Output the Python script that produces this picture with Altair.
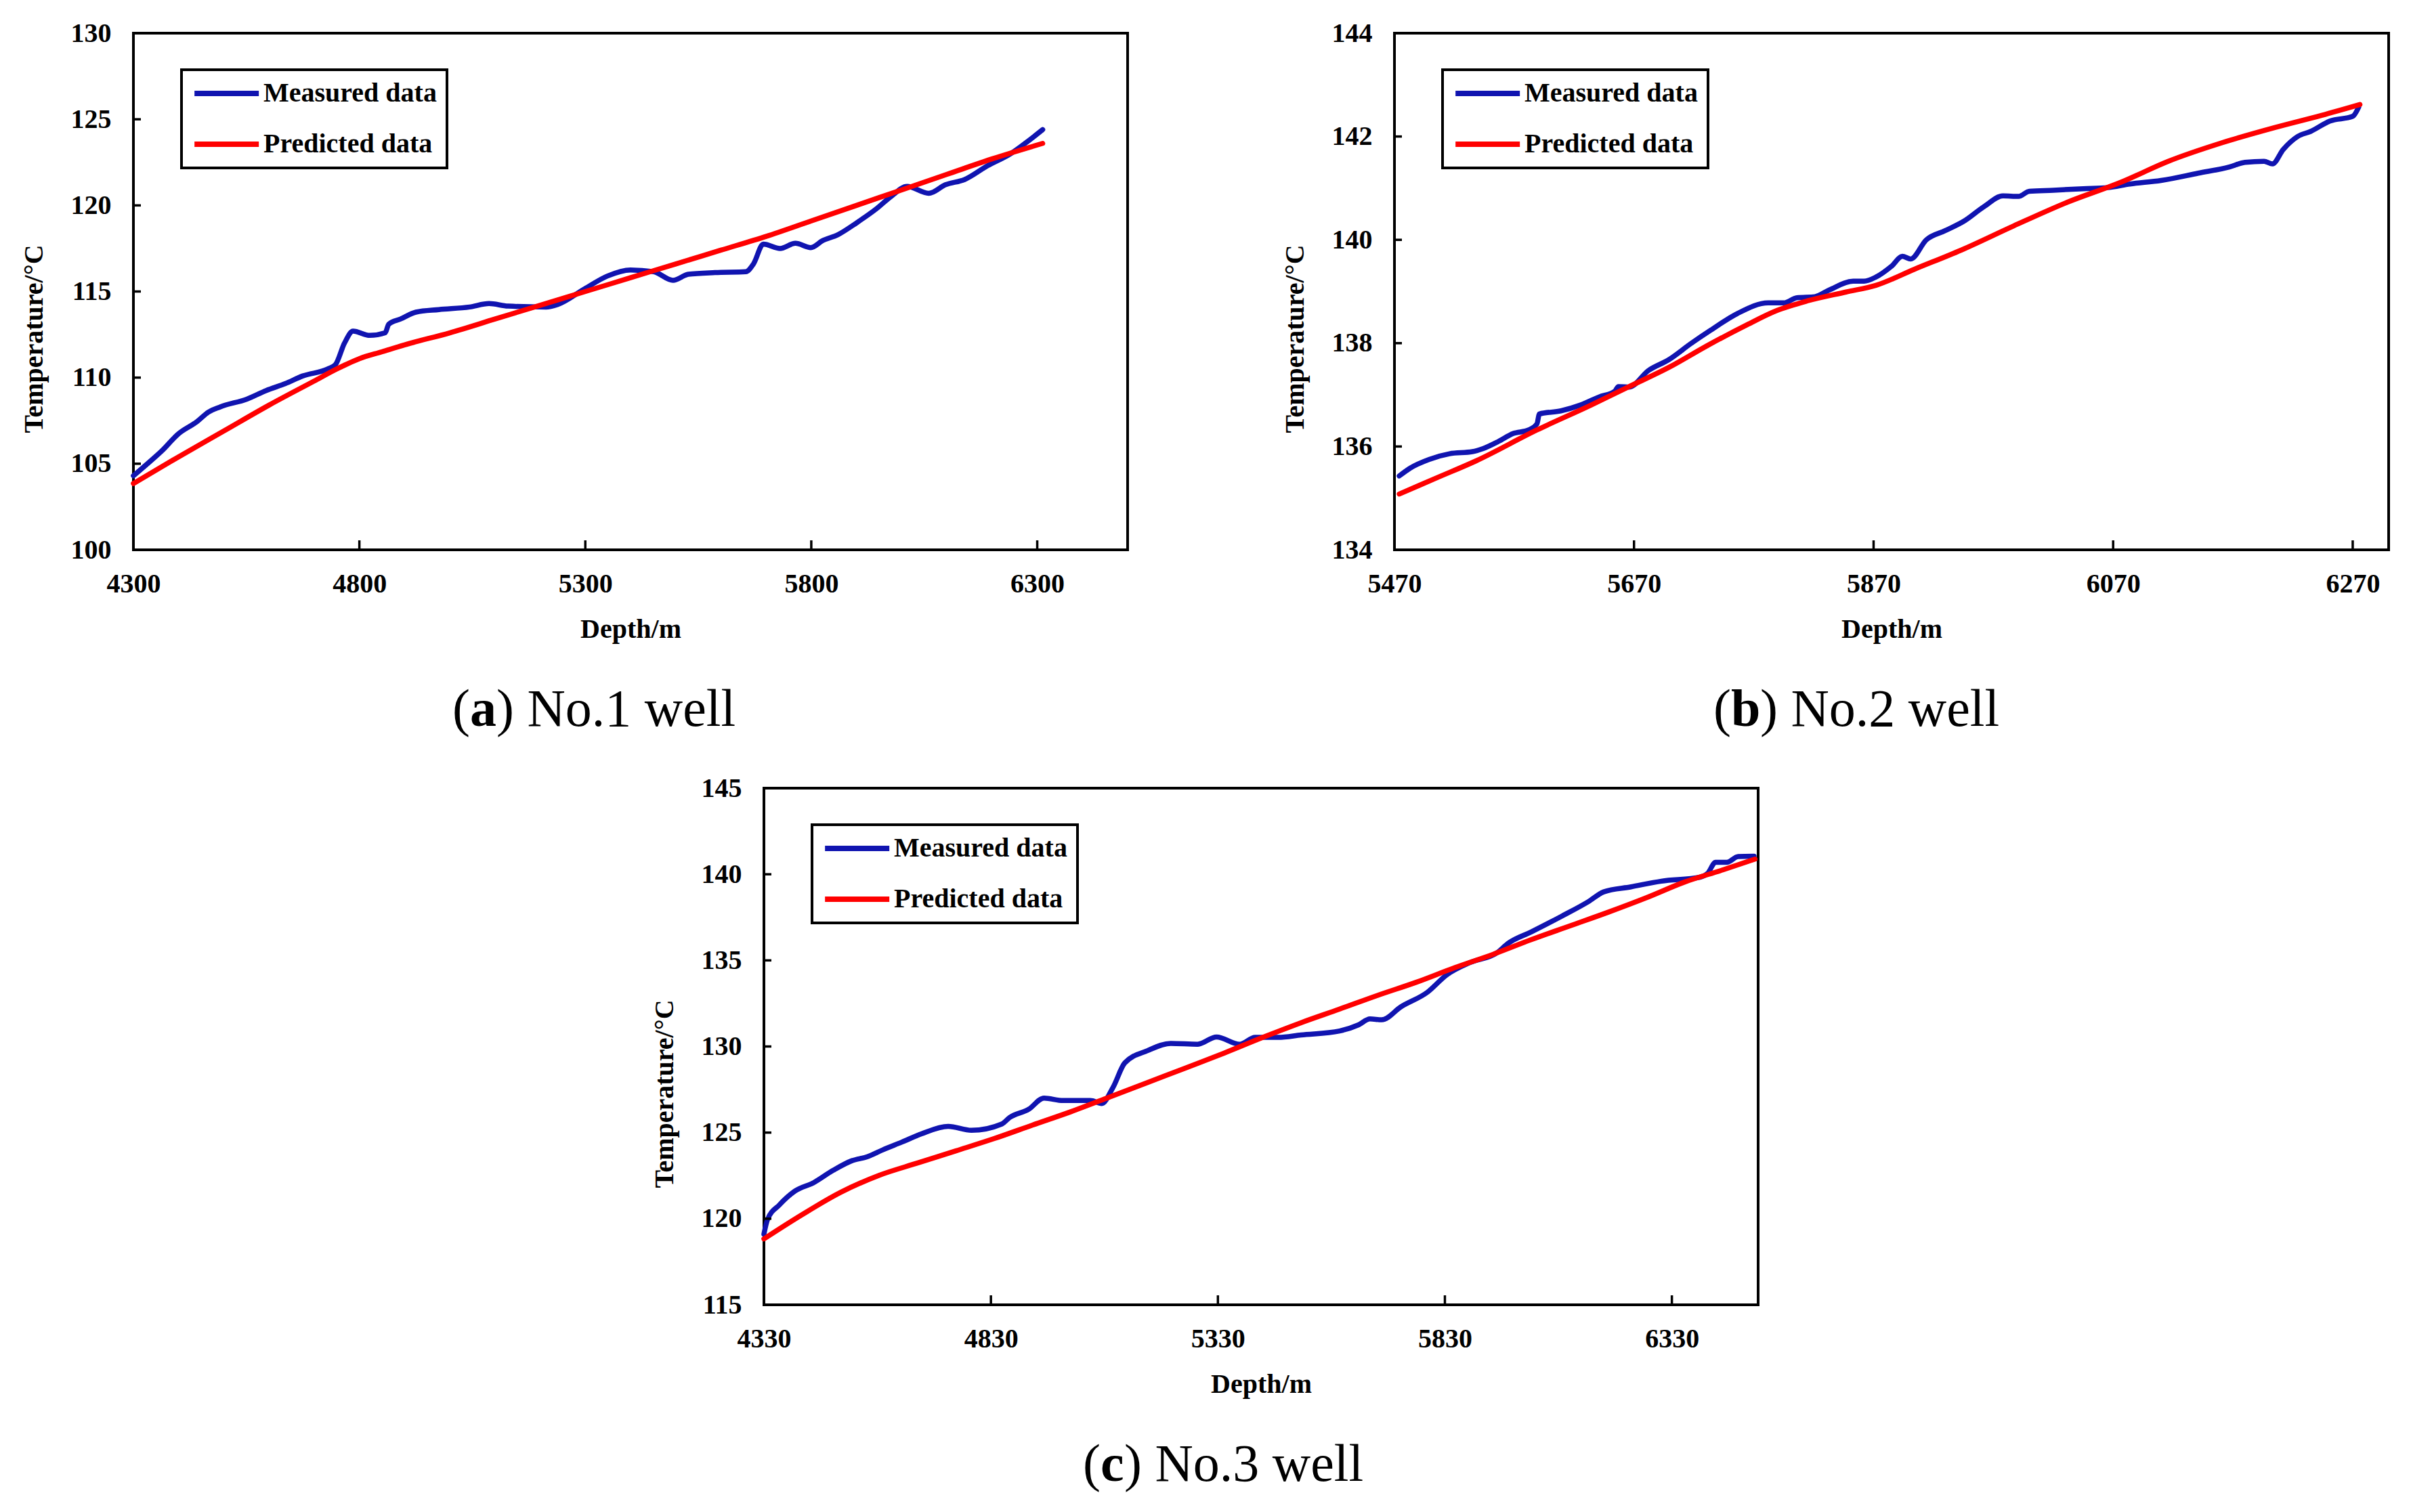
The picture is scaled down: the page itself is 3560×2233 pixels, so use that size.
import altair as alt
import pandas as pd

SERIES = ["Measured data", "Predicted data"]
COLORS = ["#1014B0", "#FF0000"]
FONT = "Liberation Serif"

# ---------------- (a) No.1 well ----------------
a_meas_depth = [4300, 4331, 4365, 4398, 4441, 4466, 4492, 4551, 4594, 4636, 4675, 4730, 4747, 4767, 4786,
                4823, 4857, 4865, 4891, 4925, 4976, 5044, 5087, 5129, 5213, 5239, 5298, 5349, 5400, 5451,
                5494, 5528, 5587, 5655, 5672, 5694, 5731, 5765, 5799, 5825, 5859, 5901, 5944, 5978, 6012,
                6060, 6097, 6139, 6190, 6241, 6283, 6312]
a_meas_temp = [104.3, 105.0, 105.8, 106.7, 107.45, 108.0, 108.3, 108.75, 109.25, 109.65, 110.1, 110.5, 110.75,
               112.0, 112.7, 112.45, 112.6, 113.1, 113.4, 113.8, 113.95, 114.1, 114.3, 114.15, 114.1, 114.25,
               115.15, 115.9, 116.25, 116.15, 115.65, 116.0, 116.1, 116.15, 116.6, 117.75, 117.5, 117.8, 117.55,
               117.95, 118.3, 119.0, 119.8, 120.55, 121.1, 120.7, 121.2, 121.5, 122.3, 123.0, 123.8, 124.4]
a_pred_depth = [4300, 4400, 4500, 4600, 4700, 4750, 4800, 4850, 4900, 5000, 5100, 5200, 5300, 5400, 5500,
                5600, 5700, 5800, 5900, 6000, 6100, 6200, 6312]
a_pred_temp = [103.85, 105.4, 106.9, 108.4, 109.8, 110.5, 111.1, 111.5, 111.9, 112.6, 113.4, 114.2, 115.0,
               115.8, 116.6, 117.4, 118.2, 119.1, 120.0, 120.9, 121.8, 122.7, 123.6]
a_xdomain = [4300, 6500]
a_xticks = [4300, 4800, 5300, 5800, 6300]
a_ydomain = [100, 130]
a_yticks = [100, 105, 110, 115, 120, 125, 130]

# ---------------- (b) No.2 well ----------------
b_meas_depth = [5474, 5483, 5499, 5516, 5535, 5544, 5557, 5569, 5582, 5589, 5591, 5609, 5625, 5641, 5654,
                5657, 5666, 5682, 5699, 5718, 5734, 5756, 5782, 5795, 5806, 5821, 5833, 5853, 5862, 5872,
                5885, 5894, 5901, 5914, 5930, 5946, 5962, 5978, 5991, 6000, 6020, 6045, 6065, 6084, 6110,
                6141, 6167, 6180, 6196, 6203, 6212, 6224, 6235, 6251, 6270, 6275]
b_meas_temp = [135.43, 135.58, 135.75, 135.86, 135.9, 135.96, 136.1, 136.25, 136.32, 136.44, 136.63, 136.69,
               136.8, 136.96, 137.07, 137.16, 137.15, 137.47, 137.68, 138.0, 138.25, 138.57, 138.78, 138.78,
               138.88, 138.9, 139.03, 139.2, 139.2, 139.28, 139.49, 139.68, 139.63, 140.0, 140.18, 140.37,
               140.64, 140.85, 140.84, 140.94, 140.96, 140.99, 141.01, 141.08, 141.15, 141.29, 141.41, 141.5,
               141.52, 141.47, 141.75, 142.0, 142.1, 142.3, 142.39, 142.57]
b_pred_depth = [5474, 5506, 5538, 5589, 5634, 5666, 5699, 5731, 5763, 5789, 5815, 5847, 5872, 5904, 5943,
                5987, 6032, 6077, 6116, 6161, 6206, 6244, 6276]
b_pred_temp = [135.08, 135.4, 135.72, 136.32, 136.8, 137.16, 137.53, 137.95, 138.34, 138.63, 138.82, 138.99,
               139.12, 139.43, 139.8, 140.27, 140.73, 141.12, 141.52, 141.88, 142.18, 142.41, 142.62]
b_xdomain = [5470, 6300]
b_xticks = [5470, 5670, 5870, 6070, 6270]
b_ydomain = [134, 144]
b_yticks = [134, 136, 138, 140, 142, 144]

# ---------------- (c) No.3 well ----------------
c_meas_depth = [4330, 4338, 4364, 4398, 4440, 4482, 4524, 4558, 4592, 4634, 4677, 4736, 4787, 4854, 4871,
                4913, 4947, 4989, 5049, 5074, 5099, 5125, 5175, 5226, 5285, 5327, 5378, 5412, 5463, 5513,
                5598, 5640, 5665, 5691, 5733, 5792, 5834, 5885, 5944, 5970, 6020, 6087, 6146, 6180, 6240,
                6307, 6392, 6409, 6426, 6451, 6476, 6511]
c_meas_temp = [119.11, 119.96, 120.8, 121.6, 122.1, 122.8, 123.37, 123.6, 124.0, 124.45, 124.93, 125.36,
               125.13, 125.5, 125.87, 126.35, 127.0, 126.86, 126.86, 126.69, 127.63, 129.05, 129.76, 130.18,
               130.13, 130.55, 130.13, 130.53, 130.53, 130.67, 130.9, 131.26, 131.6, 131.55, 132.3, 133.16,
               134.16, 134.87, 135.43, 136.0, 136.65, 137.56, 138.41, 138.98, 139.27, 139.6, 139.83, 140.06,
               140.69, 140.69, 141.03, 141.05]
c_pred_depth = [4330, 4415, 4499, 4584, 4668, 4753, 4837, 4922, 5006, 5091, 5175, 5260, 5344, 5429, 5513,
                5598, 5682, 5767, 5852, 5936, 6020, 6105, 6189, 6274, 6358, 6443, 6513]
c_pred_temp = [118.83, 120.25, 121.53, 122.52, 123.23, 123.94, 124.65, 125.44, 126.21, 127.06, 127.91,
               128.76, 129.62, 130.53, 131.38, 132.17, 132.97, 133.73, 134.58, 135.35, 136.2, 137.0, 137.79,
               138.64, 139.55, 140.26, 140.88]
c_xdomain = [4330, 6520]
c_xticks = [4330, 4830, 5330, 5830, 6330]
c_ydomain = [115, 145]
c_yticks = [115, 120, 125, 130, 135, 140, 145]

cap_letters = ["a", "b", "c"]
cap_rest = [") No.1 well", ") No.2 well", ") No.3 well"]

W, H = 1468, 763
CAP_SIZE = 78
CAP_X = 497
LETTER_W = {"a": 39, "b": 43, "c": 35}


def panel(md, mt, pdp, pt, xdom, xticks, ydom, yticks, idx):
    meas = pd.DataFrame({"depth": md, "temp": mt, "series": SERIES[0]})
    pred = pd.DataFrame({"depth": pdp, "temp": pt, "series": SERIES[1]})
    xs = alt.Scale(domain=xdom, nice=False, zero=False)
    ys = alt.Scale(domain=ydom, nice=False, zero=False)
    color = alt.Color(
        "series:N",
        scale=alt.Scale(domain=SERIES, range=COLORS),
        legend=alt.Legend(
            title=None, orient="none", legendX=71, legendY=54,
            symbolType="M-1,0H5", symbolSize=1003, symbolStrokeWidth=8,
            labelOffset=66, rowPadding=35, padding=15,
            strokeColor="black",
            labelFont=FONT, labelFontSize=40, labelFontWeight="bold",
            labelColor="black", labelLimit=600,
        ),
    )
    xaxis = alt.Axis(values=xticks, format="d", title="Depth/m", grid=False, ticks=False,
                     domain=False, labelPadding=30, labelFlush=False, titleY=117,
                     titleBaseline="middle")
    yaxis = alt.Axis(values=yticks, format="d", title="Temperature/°C", grid=False, ticks=False,
                     domain=False, labelPadding=33, labelFlush=False, titleX=-147, titleY=451,
                     titleAngle=270, titleAlign="center", titleBaseline="middle")
    X = lambda f: alt.X(f, scale=xs, axis=xaxis, title="Depth/m")
    Y = lambda f: alt.Y(f, scale=ys, axis=yaxis, title="Temperature/°C")
    l_meas = alt.Chart(meas).mark_line(strokeWidth=7.5, interpolate="monotone",
                                       strokeCap="round", strokeJoin="round").encode(
        x=X("depth:Q"), y=Y("temp:Q"), color=color)
    l_pred = alt.Chart(pred).mark_line(strokeWidth=7.5, interpolate="monotone",
                                       strokeCap="round", strokeJoin="round").encode(
        x=X("depth:Q"), y=Y("temp:Q"), color=color)
    xt = alt.Chart(pd.DataFrame({"v": xticks})).mark_rule(color="black", strokeWidth=3.5).encode(
        x=X("v:Q"), y=alt.value(H), y2=alt.value(H - 14))
    yt = alt.Chart(pd.DataFrame({"v": yticks})).mark_rule(color="black", strokeWidth=3.5).encode(
        y=Y("v:Q"), x=alt.value(0), x2=alt.value(11))
    letter = cap_letters[idx]
    cap = pd.DataFrame({"p": ["("], "l": [letter], "r": [cap_rest[idx]]})
    cy = H + 260
    c1 = alt.Chart(cap).mark_text(font=FONT, fontSize=CAP_SIZE, align="right", baseline="alphabetic",
                                  color="black").encode(x=alt.value(CAP_X), y=alt.value(cy), text="p:N")
    c2 = alt.Chart(cap).mark_text(font=FONT, fontSize=CAP_SIZE, fontWeight="bold", align="left",
                                  baseline="alphabetic", color="black").encode(
        x=alt.value(CAP_X), y=alt.value(cy), text="l:N")
    c3 = alt.Chart(cap).mark_text(font=FONT, fontSize=CAP_SIZE, align="left", baseline="alphabetic",
                                  color="black").encode(
        x=alt.value(CAP_X + LETTER_W[letter]), y=alt.value(cy), text="r:N")
    return alt.layer(l_meas, l_pred, xt, yt, c1, c2, c3).properties(width=W, height=H)


pa = panel(a_meas_depth, a_meas_temp, a_pred_depth, a_pred_temp, a_xdomain, a_xticks, a_ydomain, a_yticks, 0)
pb = panel(b_meas_depth, b_meas_temp, b_pred_depth, b_pred_temp, b_xdomain, b_xticks, b_ydomain, b_yticks, 1)
pc = panel(c_meas_depth, c_meas_temp, c_pred_depth, c_pred_temp, c_xdomain, c_xticks, c_ydomain, c_yticks, 2)

row1 = alt.hconcat(pa, pb, spacing=223).resolve_scale(color="independent").resolve_legend(color="independent")
chart = alt.vconcat(row1, pc, spacing=52, center=True).resolve_scale(
    color="independent").resolve_legend(color="independent").properties(
    padding={"left": 20, "top": 19, "right": 10, "bottom": 10}
).configure_view(stroke="black", strokeWidth=4).configure_axis(
    labelFont=FONT, labelFontSize=40, labelFontWeight="bold", labelColor="black",
    titleFont=FONT, titleFontSize=40, titleFontWeight="bold", titleColor="black",
).configure_legend(strokeWidth=4)

chart.save("out.html", embed_options={"renderer": "svg", "actions": False})
